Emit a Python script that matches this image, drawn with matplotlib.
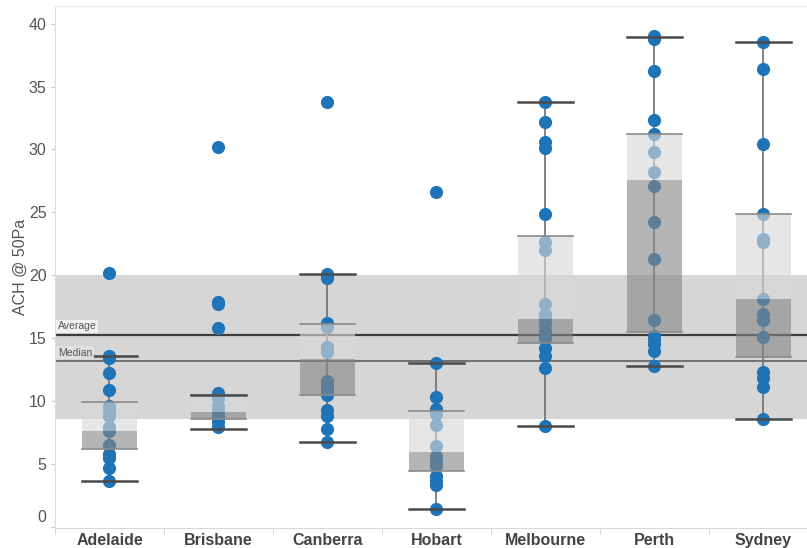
import matplotlib
matplotlib.use("Agg")
import matplotlib.pyplot as plt
import numpy as np

# ---- data ----
cities = ['Adelaide', 'Brisbane', 'Canberra', 'Hobart', 'Melbourne', 'Perth', 'Sydney']

adelaide = [20.2, 13.6, 13.4, 12.2, 10.9, 9.6, 9.2, 8.8, 7.9, 7.6, 6.5, 5.8, 5.5, 4.7, 3.6]
brisbane = [30.2, 17.9, 17.7, 15.8, 10.6, 10.2, 9.6, 9.1, 8.7, 8.3, 7.9]
canberra = [33.8, 20.1, 19.8, 16.2, 15.9, 14.3, 13.9, 11.6, 11.3, 10.9, 10.5, 9.3, 8.8, 7.8, 6.7]
hobart = [26.6, 13.0, 10.3, 9.4, 9.0, 8.1, 6.4, 5.6, 5.2, 4.8, 4.0, 3.6, 3.3, 1.4]
melbourne = [33.8, 32.2, 30.6, 30.1, 24.9, 22.6, 22.0, 17.7, 16.9, 16.5, 16.1, 15.6, 15.0, 14.2, 13.6, 12.6, 8.0]
perth = [39.0, 38.8, 36.2, 32.3, 31.2, 29.8, 28.2, 27.1, 24.2, 21.3, 16.4, 15.2, 14.9, 14.5, 14.0, 12.8]
sydney = [38.5, 36.4, 30.4, 24.9, 22.9, 22.6, 18.1, 16.9, 16.4, 15.1, 12.3, 11.8, 11.1, 8.6]
points = [adelaide, brisbane, canberra, hobart, melbourne, perth, sydney]

# box statistics
whisker_low = [3.6, 7.8, 6.7, 1.4, 8.0, 12.8, 8.6]
q1 = [6.15, 8.55, 10.5, 4.4, 14.6, 15.5, 13.5]
median = [7.6, 9.1, 13.35, 5.95, 16.5, 27.6, 18.1]
q3 = [9.95, 10.5, 16.1, 9.2, 23.1, 31.2, 24.9]
whisker_high = [13.6, 10.5, 20.1, 13.0, 33.8, 38.9, 38.5]

# reference lines / band
band_low, band_high = 8.6, 20.05
ref_average = 15.28
ref_median = 13.2

yticks = [0, 5, 10, 15, 20, 25, 30, 35, 40]

# ---- figure ----
plt.rcParams['font.family'] = ['Liberation Sans', 'DejaVu Sans']
fig = plt.figure(figsize=(8.07, 5.48), dpi=100)
ax = fig.add_axes([55 / 807, 20 / 548, (807 - 55) / 807, (528 - 6) / 548])

ax.set_xlim(-0.5, 6.4)
ax.set_ylim(-0.1, 41.4)

# band
ax.axhspan(band_low, band_high, color='#d6d6d6', zorder=0.5, lw=0)
# reference lines
ax.axhline(ref_average, color='#3c3c3c', lw=1.6, zorder=1)
ax.axhline(ref_median, color='#707070', lw=1.4, zorder=1)

tf = ax.get_yaxis_transform()
ax.text(0.004, ref_average + 0.25, 'Average', transform=tf, fontsize=7.5, color='#555555',
        va='bottom', ha='left', zorder=6,
        bbox=dict(facecolor='#f4f4f4', edgecolor='none', pad=1.2, alpha=0.9))
ax.text(0.004, ref_median + 0.25, 'Median', transform=tf, fontsize=7.5, color='#555555',
        va='bottom', ha='left', zorder=6,
        bbox=dict(facecolor='#e2e2e2', edgecolor='none', pad=1.2, alpha=0.9))

bw = 0.5
dot_color = '#1f74b8'
for i, vals in enumerate(points):
    # whisker line
    ax.plot([i, i], [whisker_low[i], whisker_high[i]], color='#6e6e6e', lw=1.2, zorder=2,
            solid_capstyle='butt')
    # dots
    ax.scatter(np.full(len(vals), i), vals, s=90, color=dot_color, zorder=3, linewidths=0)
    # boxes
    ax.bar(i, q3[i] - median[i], bottom=median[i], width=bw, color='#d8d8d8', alpha=0.62,
           zorder=4, lw=0)
    ax.bar(i, median[i] - q1[i], bottom=q1[i], width=bw, color='#858585', alpha=0.6,
           zorder=4, lw=0)
    ax.plot([i - bw / 2, i + bw / 2], [q3[i], q3[i]], color='#8a8a8a', lw=1.2, zorder=5)
    ax.plot([i - bw / 2, i + bw / 2], [q1[i], q1[i]], color='#8a8a8a', lw=1.2, zorder=5)
    # caps
    for v in (whisker_low[i], whisker_high[i]):
        ax.plot([i - bw / 2, i + bw / 2], [v, v], color='#4a4a4a', lw=1.8, zorder=5)

# axes styling
ax.spines['right'].set_visible(False)
ax.spines['left'].set_color('#dddddd')
ax.spines['top'].set_color('#ebebeb')
ax.spines['bottom'].set_color('#d8d8d8')

ax.set_yticks(yticks)
ax.set_yticklabels([''] + [str(t) for t in yticks[1:]])
ax.tick_params(axis='y', length=3, color='#cccccc', labelcolor='#555555', labelsize=11.5, pad=3)
ax.annotate('0', xy=(0, 0), xycoords=('axes fraction', 'data'), xytext=(-6, 7),
            textcoords='offset points', ha='right', va='center', fontsize=11.5,
            color='#555555', annotation_clip=False)

ax.set_xticks(range(len(cities)))
ax.set_xticklabels(cities, fontsize=11.5, fontweight='bold', color='#444444')
ax.tick_params(axis='x', length=0, pad=3.5)
ax.set_xticks(np.arange(-0.5, 6.0, 1.0), minor=True)
ax.tick_params(axis='x', which='minor', length=4, color='#d0d0d0')

ax.set_ylabel('ACH @ 50Pa', fontsize=11.5, color='#555555')
ax.yaxis.set_label_coords(-0.036, 0.5)

fig.savefig('out.png', dpi=100)
